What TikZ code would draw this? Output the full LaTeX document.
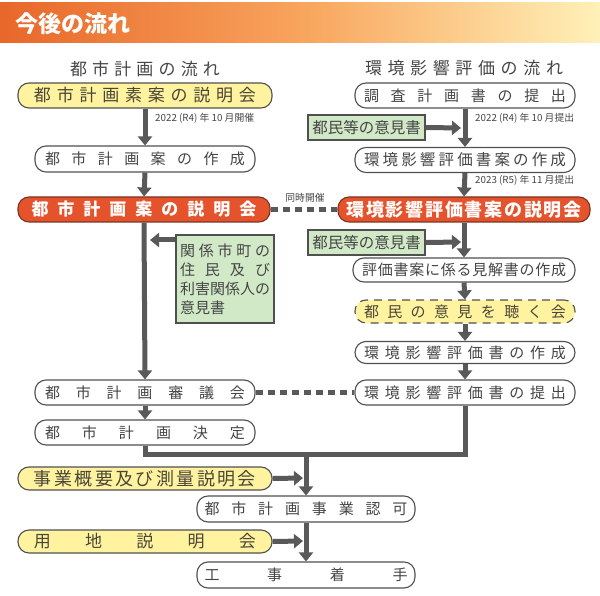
\documentclass[tikz,border=0pt]{standalone}
\usepackage{fontspec}
\setmainfont{Noto Sans CJK JP}
\usetikzlibrary{arrows.meta,calc}
\makeatletter
\def\sprd#1{\sprd@#1\sprd@end}
\def\sprd@#1#2\sprd@end{#1\if\relax\detokenize{#2}\relax\else\hfill\sprd@#2\sprd@end\fi}
\makeatother
\newcommand\spb[2]{\makebox[#1pt]{\sprd{#2}}}
\newcommand\fsz[1]{\fontsize{#1}{#1}\selectfont}
\definecolor{arrc}{HTML}{595959}
\definecolor{pilline}{HTML}{505050}
\definecolor{txt}{HTML}{454545}
\definecolor{txty}{HTML}{4A4638}
\definecolor{yfill}{HTML}{FFF3A0}
\definecolor{rfill}{HTML}{E5532D}
\definecolor{rline}{HTML}{7A3420}
\definecolor{gfill}{HTML}{D2E9C8}
\definecolor{hdl}{HTML}{E8672A}
\definecolor{hdm}{HTML}{F8A45C}
\definecolor{hdr}{HTML}{FFF1B8}
\begin{document}
\begin{tikzpicture}[x=1pt,y=-1pt,
  pill/.style={draw=pilline, line width=1.1pt, rounded corners=11pt, inner sep=0pt, text=txt, fill=white},
  ypill/.style={pill, fill=yfill, text=txty},
  rpill/.style={pill, fill=rfill, draw=rline, text=white},
  gbox/.style={draw=pilline, line width=1.1pt, fill=gfill, inner sep=0pt, text=txt},
  arr/.style={line width=5pt, draw=arrc, -{Triangle[width=14pt,length=9pt]}},
  ln/.style={line width=5pt, draw=arrc, line join=miter},
  dotline/.style={line width=5.5pt, draw=arrc, dash pattern=on 7pt off 5pt},
  datel/.style={anchor=west, inner sep=0pt, font=\fsz{9.8}, text=txt}]
\useasboundingbox (0,0) rectangle (600,596);
% header
\shade[left color=hdl, right color=hdr, middle color=hdm] (0,3) rectangle (600,43);
\node[anchor=west, inner sep=0pt, font=\fsz{23}\bfseries, text=white] (title) at (15,24) {今後の流れ};
% column titles
\node[font=\fsz{17}, text=txt, inner sep=0pt] (tl) at (145,69) {\spb{150}{都市計画の流れ}};
\node[font=\fsz{17}, text=txt, inner sep=0pt] (tr) at (464,68) {\spb{198}{環境影響評価の流れ}};
% left column
\node[ypill, minimum width=254pt, minimum height=25pt, font=\fsz{17}] (l1) at (145,95.5) {\spb{222}{都市計画素案の説明会}};
\node[pill, minimum width=220pt, minimum height=26pt, font=\fsz{15}] (l2) at (145,159) {\spb{200}{都市計画案の作成}};
\node[rpill, minimum width=252pt, minimum height=25pt, font=\fsz{17}\bfseries] (l3) at (144,209.5) {\spb{225}{都市計画案の説明会}};
\node[pill, minimum width=220pt, minimum height=25pt, font=\fsz{15}] (l4) at (145,392.5) {\spb{200}{都市計画審議会}};
\node[pill, minimum width=220pt, minimum height=25pt, font=\fsz{15}] (l5) at (145,432.5) {\spb{200}{都市計画決定}};
\node[gbox, minimum width=98pt, minimum height=88pt, align=left, font=\fontsize{15}{19}\selectfont] (g1) at (225,279)
  {\spb{90}{関係市町の}\\\spb{90}{住民及び}\\利害関係人の\\意見書};
% right column
\node[pill, minimum width=220pt, minimum height=25pt, font=\fsz{15}] (r1) at (465,95.5) {\spb{202}{調査計画書の提出}};
\node[pill, minimum width=220pt, minimum height=25pt, font=\fsz{15.5}] (r2) at (465,160) {\spb{202}{環境影響評価書案の作成}};
\node[rpill, minimum width=252pt, minimum height=25pt, font=\fsz{18}\bfseries] (r3) at (464,209.5) {\spb{235}{環境影響評価書案の説明会}};
\node[pill, minimum width=222pt, minimum height=24pt, font=\fsz{15}] (r4) at (464,270) {\spb{204}{評価書案に係る見解書の作成}};
\node[ypill, dash pattern=on 8pt off 6pt, minimum width=220pt, minimum height=23pt, font=\fsz{15}] (r5) at (465,311.5) {\spb{202}{都民の意見を聴く会}};
\node[pill, minimum width=220pt, minimum height=22pt, font=\fsz{15}] (r6) at (465,352.5) {\spb{202}{環境影響評価書の作成}};
\node[pill, minimum width=220pt, minimum height=25pt, font=\fsz{15}] (r7) at (465,392.5) {\spb{202}{環境影響評価書の提出}};
\node[gbox, minimum width=117pt, minimum height=25pt, font=\fsz{15.5}] (g2) at (366.5,127.5) {都民等の意見書};
\node[gbox, minimum width=117pt, minimum height=25pt, font=\fsz{15.5}] (g3) at (366.5,242.5) {都民等の意見書};
% bottom
\node[ypill, minimum width=254pt, minimum height=23pt, font=\fsz{18}] (b1) at (145,478.5) {\spb{222}{事業概要及び測量説明会}};
\node[pill, minimum width=218pt, minimum height=26pt, font=\fsz{15}] (b2) at (306,509) {\spb{203}{都市計画事業認可}};
\node[ypill, minimum width=254pt, minimum height=23pt, font=\fsz{17}] (b3) at (145,541.5) {\spb{222}{用地説明会}};
\node[pill, minimum width=218pt, minimum height=26pt, font=\fsz{15}] (b4) at (306,575) {\spb{203}{工事着手}};
% labels
\node[datel] (d1) at (155,118) {2022 (R4) 年 10 月開催};
\node[datel] (d2) at (475,118) {2022 (R4) 年 10 月提出};
\node[datel] (d3) at (475,180) {2023 (R5) 年 11 月提出};
\node[inner sep=0pt, font=\fsz{9.8}, text=txt] (sim) at (305,198) {同時開催};
% coordinates
\coordinate (jg1) at (150,240);
\coordinate (jg2) at (461,128);
\coordinate (jg3) at (461,242);
\coordinate (m) at (465,454);
\coordinate (jb1) at (303,478);
\coordinate (jb3) at (303,541);
% connectors left
\draw[arr] (l1.south) -- (l2.north);
\draw[arr] (l2.south) -- (l3.north);
\draw[arr] (l3.south) -- (l4.north);
\draw[arr] (l4.south) -- (l5.north);
\draw[arr] (g1.west |- jg1) -- (jg1);
% connectors right
\draw[arr] (r1.south) -- (r2.north);
\draw[arr] (r2.south) -- (r3.north);
\draw[arr] (r3.south) -- (r4.north);
\draw[arr] (r4.south) -- (r5.north);
\draw[arr] (r5.south) -- (r6.north);
\draw[arr] (r6.south) -- (r7.north);
\draw[arr] (g2.east) -- (jg2);
\draw[arr] (g3.east) -- (jg3);
% dotted
\draw[dotline] (l3.east) -- (r3.west);
\draw[dotline] (l4.east) -- (r7.west);
% merge
\draw[ln] (l5.south) |- (m) -- (r7.south);
\draw[arr] (b2.north |- m) -- (b2.north);
\draw[arr] (b1.east) -- (jb1);
\draw[arr] (b2.south) -- (b4.north);
\draw[arr] (b3.east) -- (jb3);
\end{tikzpicture}
\end{document}
